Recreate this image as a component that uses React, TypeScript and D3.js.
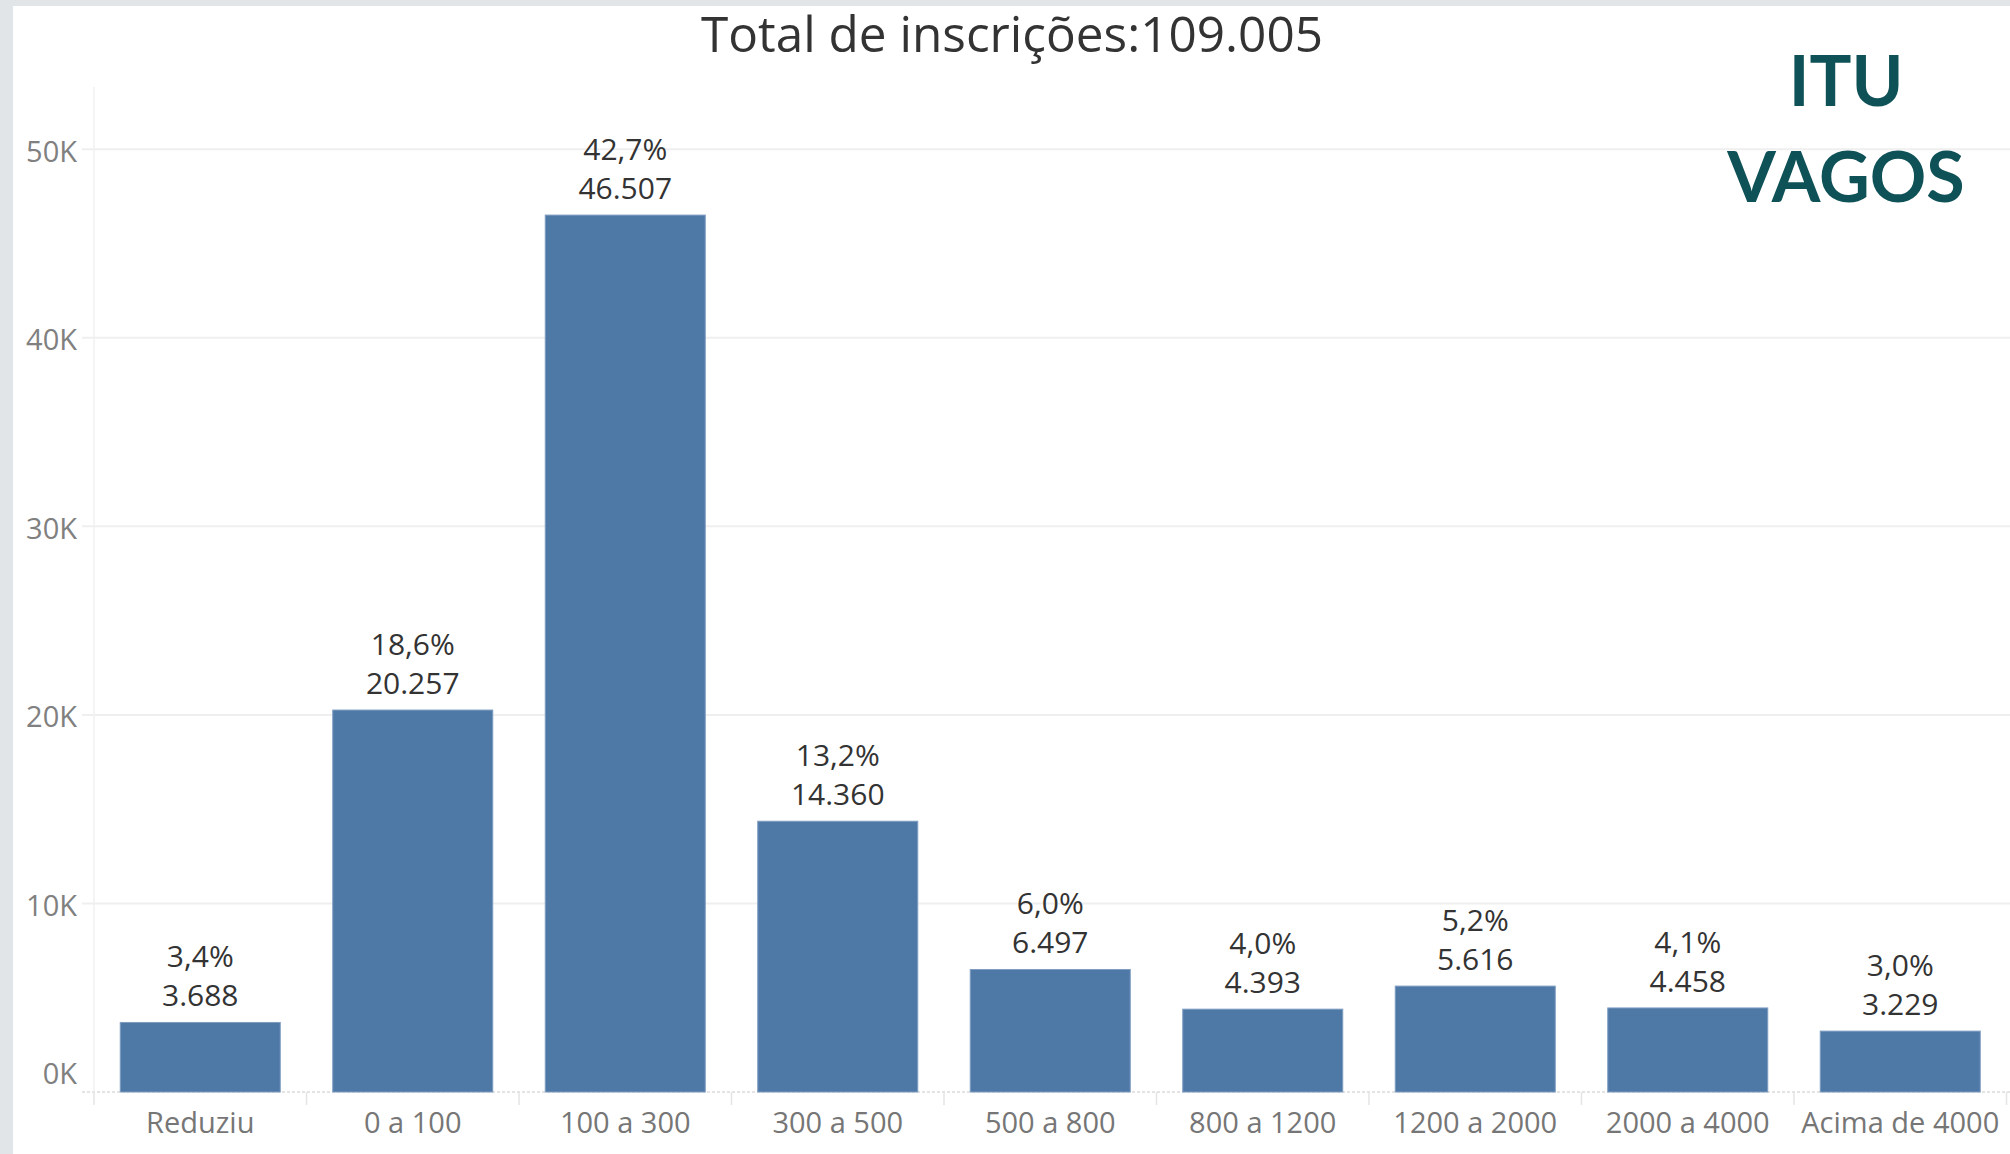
import React from "react";
import * as d3 from "d3";

const categories = ["Reduziu", "0 a 100", "100 a 300", "300 a 500", "500 a 800", "800 a 1200", "1200 a 2000", "2000 a 4000", "Acima de 4000"];
const values = [3688, 20257, 46507, 14360, 6497, 4393, 5616, 4458, 3229];
const percents = ["3,4%", "18,6%", "42,7%", "13,2%", "6,0%", "4,0%", "5,2%", "4,1%", "3,0%"];
const yTicks = [0, 10000, 20000, 30000, 40000, 50000];
const titleText = "Total de inscrições:109.005";
const badgeLines = ["ITU", "VAGOS"];

const W = 2010;
const H = 1154;
const FONT = "'Open Sans', 'DejaVu Sans', sans-serif";

const ptBR = d3.formatLocale({ decimal: ",", thousands: ".", grouping: [3], currency: ["R$", ""] });
const fmt = ptBR.format(",d");

export default function App() {
  const x = d3.scaleBand<string>().domain(categories).range([94, 2006.5]).paddingInner(0.247).paddingOuter(0.1235);
  const y = d3.scaleLinear().domain([0, 53300]).range([1092, 87]);
  const step = x.step();
  const x0 = x.range()[0];
  const bounds = d3.range(categories.length + 1).map((i) => x0 + i * step);

  return (
    <div style={{ position: "absolute", left: 0, top: 0, width: W, height: H }}>
      <svg width={W} height={H} style={{ display: "block" }}>
        <rect x={0} y={0} width={W} height={H} fill="#ffffff" />
        <rect x={0} y={0} width={W} height={6} fill="#e1e5e8" />
        <rect x={0} y={0} width={13} height={H} fill="#e1e5e8" />

        {/* gridlines */}
        {yTicks.map((t) =>
          t === 0 ? (
            <line key={t} x1={82} x2={W} y1={y(t)} y2={y(t)} stroke="#dcdcdc" strokeWidth={1.5} strokeDasharray="3,2" />
          ) : (
            <line key={t} x1={82} x2={W} y1={y(t)} y2={y(t)} stroke="#efefef" strokeWidth={2} />
          )
        )}
        {/* y axis line */}
        <line x1={94} x2={94} y1={87} y2={1092} stroke="#f0f0f0" strokeWidth={1.5} />

        {/* y tick labels */}
        {yTicks.map((t) => (
          <text
            key={t}
            x={77}
            y={t === 0 ? y(t) - 8.5 : y(t) + 12.5}
            textAnchor="end"
            fontFamily={FONT}
            fontSize={29}
            fill="#808080"
          >
            {t / 1000 + "K"}
          </text>
        ))}

        {/* bars */}
        {categories.map((c, i) => (
          <rect
            key={c}
            x={x(c)}
            y={y(values[i])}
            width={x.bandwidth()}
            height={y(0) - y(values[i])}
            fill="#4e79a7"
            stroke="#7f9dc0"
            strokeWidth={1}
          />
        ))}

        {/* x separators */}
        {bounds.map((b, i) => (
          <line key={i} x1={b} x2={b} y1={1092} y2={1105} stroke="#e4e4e4" strokeWidth={1.5} />
        ))}

        {/* x labels */}
        {categories.map((c) => (
          <text
            key={c}
            x={(x(c) as number) + x.bandwidth() / 2}
            y={1133}
            textAnchor="middle"
            fontFamily={FONT}
            fontSize={29}
            fill="#767676"
          >
            {c}
          </text>
        ))}

        {/* value labels */}
        {categories.map((c, i) => {
          const cx = (x(c) as number) + x.bandwidth() / 2;
          const top = y(values[i]);
          return (
            <g key={c} fontFamily={FONT} fontSize={30} fill="#333333" textAnchor="middle">
              <text x={cx} y={top - 55}>{percents[i]}</text>
              <text x={cx} y={top - 16}>{fmt(values[i])}</text>
            </g>
          );
        })}

        {/* title */}
        <text x={1012} y={52} textAnchor="middle" fontFamily={FONT} fontSize={49.5} fill="#333333">
          {titleText}
        </text>

        {/* badge */}
        <g fontFamily="Lato, 'Open Sans', sans-serif" fontWeight={700} fontSize={70} fill="#0e5157" textAnchor="middle">
          <text x={1846} y={106}>{badgeLines[0]}</text>
          <text x={1846} y={202}>{badgeLines[1]}</text>
        </g>
      </svg>
    </div>
  );
}
